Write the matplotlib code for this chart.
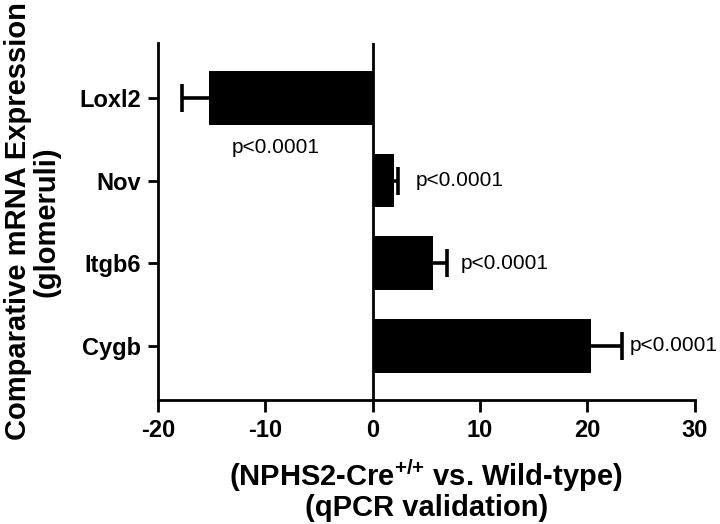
import numpy as np
import matplotlib
matplotlib.use("Agg")
import matplotlib.pyplot as plt

plt.rcParams['font.family'] = ['Liberation Sans', 'DejaVu Sans']
plt.rcParams['mathtext.fontset'] = 'custom'
plt.rcParams['mathtext.rm'] = 'Liberation Sans:bold'
plt.rcParams['mathtext.bf'] = 'Liberation Sans:bold'

genes = ["Loxl2", "Nov", "Itgb6", "Cygb"]
values = [-15.2, 2.0, 5.6, 20.4]
errors = [2.6, 0.35, 1.3, 2.8]
pvals = ["p<0.0001", "p<0.0001", "p<0.0001", "p<0.0001"]
xticks = [-20, -10, 0, 10, 20, 30]

# layout: horizontal gap (data units) between error-bar end and p-value text
label_gap = [0.0, 1.65, 1.3, 0.8]

fig = plt.figure(figsize=(7.2, 5.24), dpi=100)
ax = fig.add_axes([0.2194, 0.2366, 0.7452, 0.6814])

y = np.arange(len(genes))
vals = np.array(values)
errs = np.array(errors)
ends = vals + np.sign(vals) * errs

# one-sided error bars (outer side only)
ax.hlines(y, vals, ends, color='black', lw=2.6, zorder=1)
ax.plot(ends, y, ls='none', marker='|', ms=20, mew=2.6, color='black', zorder=1)
ax.barh(y, vals, height=0.65, color='black', zorder=2)

ax.axvline(0, color='black', lw=2, zorder=3)

# p-value annotations
for i, (v, xe, p, g) in enumerate(zip(vals, ends, pvals, label_gap)):
    if v < 0:
        ax.text(v / 2 - 1.4, i + 0.6, p, ha='center', va='center', fontsize=15)
    else:
        ax.text(xe + g, i, p, ha='left', va='center', fontsize=15)

ax.set_xlim(-20, 30)
ax.set_ylim(3.655, -0.665)
ax.set_xticks(xticks)
ax.set_xticklabels([str(t) for t in xticks], fontsize=17, fontweight='bold')
ax.set_yticks(y)
ax.set_yticklabels(genes, fontsize=17, fontweight='bold')

for s in ['top', 'right']:
    ax.spines[s].set_visible(False)
for s in ['left', 'bottom']:
    ax.spines[s].set_linewidth(2)
ax.tick_params(axis='y', length=7, width=2, pad=5)
ax.tick_params(axis='x', length=8.5, width=2, pad=5)

ax.set_xlabel(r"(NPHS2-Cre$^{{+}/{+}}$ vs. Wild-type)" + "\n(qPCR validation)",
              fontsize=21, fontweight='bold', linespacing=1.0, labelpad=11)
ax.set_ylabel("Comparative mRNA Expression\n(glomeruli)", fontsize=21,
              fontweight='bold', linespacing=1.0, labelpad=14)

fig.savefig("out.png", dpi=100)
